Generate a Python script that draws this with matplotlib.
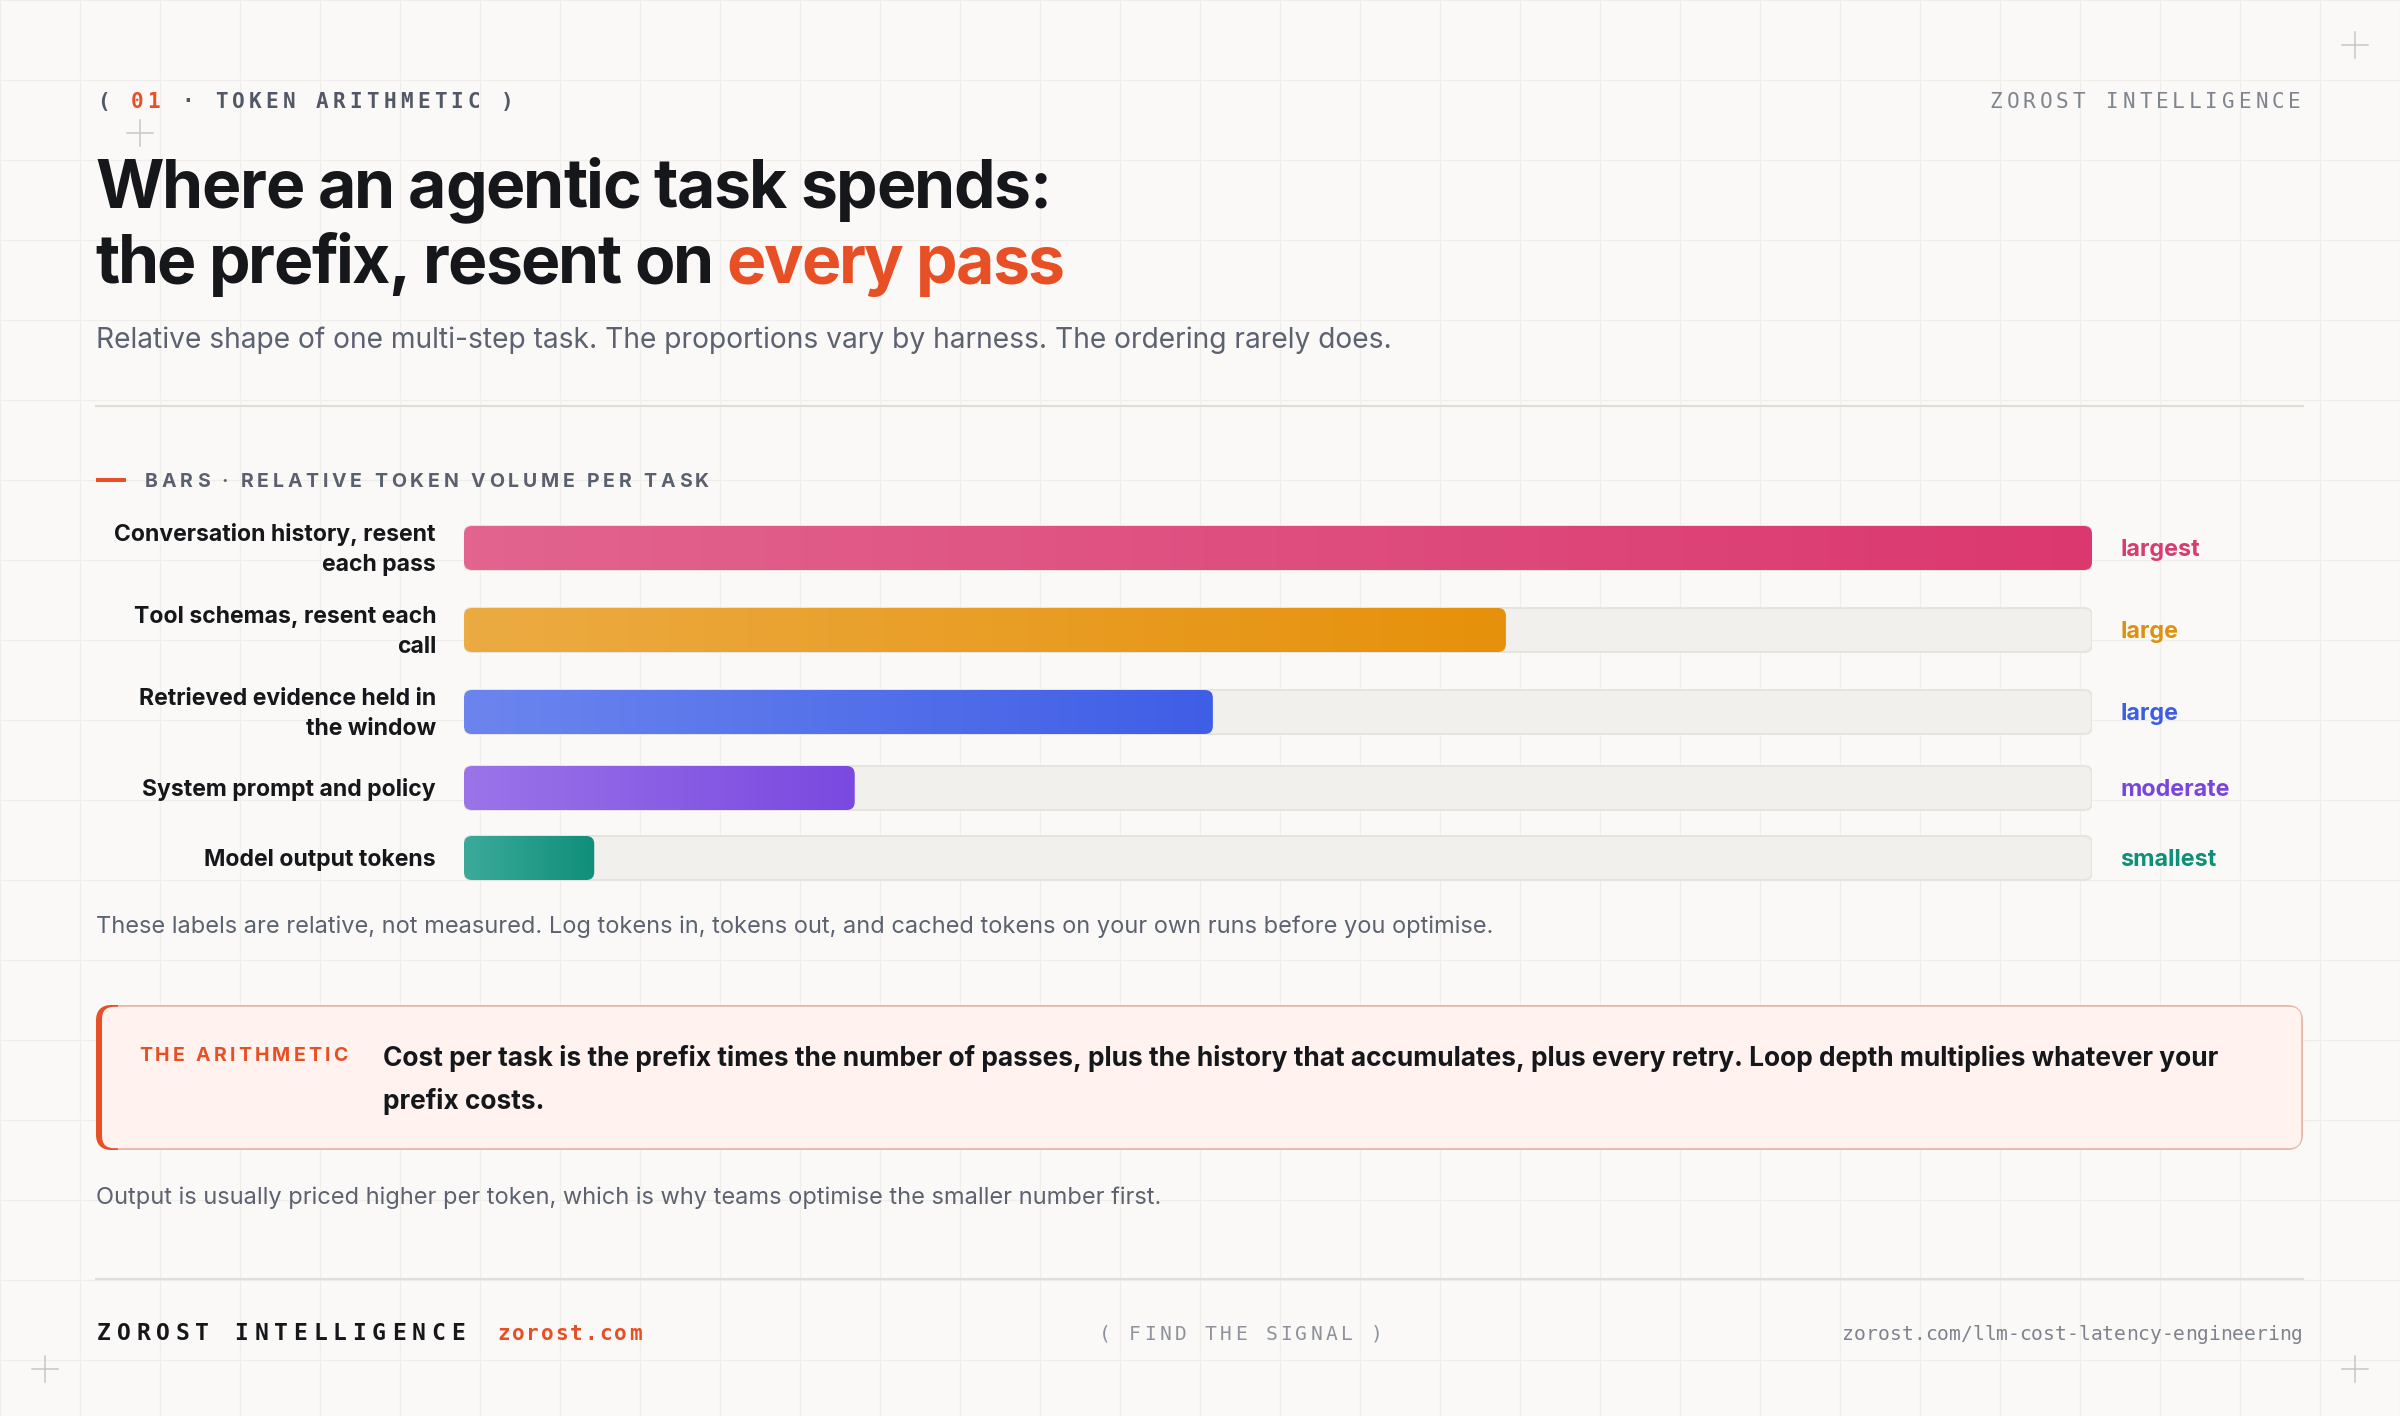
import numpy as np
import matplotlib
matplotlib.use("Agg")
import matplotlib.pyplot as plt
from matplotlib.patches import FancyBboxPatch, Rectangle
from matplotlib.colors import LinearSegmentedColormap
from matplotlib.font_manager import FontProperties, findfont, get_font

# ---------------- data ----------------
categories = ["Conversation history, resent\neach pass",
              "Tool schemas, resent each\ncall",
              "Retrieved evidence held in\nthe window",
              "System prompt and policy",
              "Model output tokens"]
values = [100, 64, 46, 24, 8]
levels = ["largest", "large", "large", "moderate", "smallest"]
grad_start = ["#e2648f", "#ecab42", "#6c85ee", "#9b74e9", "#3caa9a"]
grad_end = ["#db386f", "#e6910b", "#3f5ee6", "#7a49e0", "#0f8f7a"]
level_colors = ["#d63c70", "#e0900f", "#3d5ee0", "#7a45dd", "#0e8f78"]

header_left = ["( ", "01", " · TOKEN ARITHMETIC )"]
brand = "ZOROST INTELLIGENCE"
title_l1 = "Where an agentic task spends:"
title_l2a = "the prefix, resent on "
title_l2b = "every pass"
subtitle = ("Relative shape of one multi-step task. The proportions vary by harness. "
            "The ordering rarely does.")
section = "BARS · RELATIVE TOKEN VOLUME PER TASK"
note1 = ("These labels are relative, not measured. Log tokens in, tokens out, and "
         "cached tokens on your own runs before you optimise.")
callout_label = "THE ARITHMETIC"
callout_lines = ["Cost per task is the prefix times the number of passes, plus the history "
                 "that accumulates, plus every retry. Loop depth multiplies whatever your",
                 "prefix costs."]
note2 = "Output is usually priced higher per token, which is why teams optimise the smaller number first."
footer_site = "zorost.com"
footer_mid = "( FIND THE SIGNAL )"
footer_url = "zorost.com/llm-cost-latency-engineering"

# ---------------- layout ----------------
W, H, DPI = 2400, 1416, 100
SANS = "Inter"
MONO = "DejaVu Sans Mono"
BG = "#faf9f7"
ORANGE = "#e84f25"
INK = "#16171b"
GRAY = "#5c6270"

row_y = [548, 630, 712, 788, 858]
bar_h = 44
track_left, track_right = 464, 2092


def px(p):
    return p * 72.0 / DPI


def fprop(family, weight, size_px):
    return FontProperties(family=family, weight=weight, size=px(size_px))


def advances(s, prop, kern=False):
    font = get_font(findfont(prop))
    font.set_size(prop.get_size_in_points(), DPI)
    out = []
    prev = None
    for c in s:
        k = 0.0
        if kern:
            try:
                idx = font.get_char_index(ord(c))
                if prev is not None:
                    try:
                        from matplotlib.ft2font import Kerning
                        k = font.get_kerning(prev, idx, Kerning.DEFAULT) / 64.0
                    except Exception:
                        k = font.get_kerning(prev, idx, 0) / 64.0
                prev = idx
            except Exception:
                k = 0.0
        out.append((k, font.load_char(ord(c)).linearHoriAdvance / 65536.0))
    return out


def tracked(ax, x, y, s, size_px, track, family, weight, color, ha="left",
            va="baseline", zorder=6, kern=False):
    prop = fprop(family, weight, size_px)
    adv = advances(s, prop, kern)
    total = sum(k + a for k, a in adv) + track * (len(s) - 1)
    if ha == "right":
        x0 = x - total
    elif ha == "center":
        x0 = x - total / 2
    else:
        x0 = x
    for c, (k, a) in zip(s, adv):
        x0 += k
        if not c.isspace():
            ax.text(x0, y, c, fontproperties=prop, color=color, ha="left", va=va, zorder=zorder)
        x0 += a + track
    return x0 - track


fig = plt.figure(figsize=(W / DPI, H / DPI), dpi=DPI, facecolor=BG)
ax = fig.add_axes([0, 0, 1, 1])
ax.set_xlim(0, W)
ax.set_ylim(H, 0)
ax.axis("off")
ax.set_facecolor(BG)

# background grid
for gx in range(0, W + 1, 80):
    ax.axvline(gx, color="#f0eeea", lw=px(1.2), zorder=0)
for gy in range(0, H + 1, 80):
    ax.axhline(gy, color="#f0eeea", lw=px(1.2), zorder=0)

# corner crosses
for cx, cy in [(140, 133), (2355, 45), (45, 1369), (2355, 1369)]:
    ax.plot([cx - 13, cx + 13], [cy, cy], color="#c9c9cc", lw=px(1.6), zorder=1)
    ax.plot([cx, cx], [cy - 13, cy + 13], color="#c9c9cc", lw=px(1.6), zorder=1)

# header
x = 97
hdr_colors = ["#525866", ORANGE, "#525866"]
for part, col in zip(header_left, hdr_colors):
    x = tracked(ax, x, 108, part, 21, 4.2, MONO, "bold", col) + 4.2
tracked(ax, 2301, 108, brand, 21, 3.95, MONO, "normal", "#7f848e", ha="right")

# title
tracked(ax, 95, 208, title_l1, 66, -1.4, SANS, "bold", INK, kern=True)
x2 = tracked(ax, 95, 283, title_l2a, 66, -1.7, SANS, "bold", INK, kern=True)
tracked(ax, x2 - 2.0, 283, title_l2b, 66, -1.7, SANS, "bold", ORANGE, kern=True)

# subtitle
ax.text(96, 348, subtitle, fontproperties=fprop(SANS, "normal", 28.2), color=GRAY, va="baseline")

# rule
ax.plot([96, 2303], [406, 406], color="#e1ded9", lw=px(2.2), zorder=2)

# section label
ax.plot([96, 126], [480, 480], color=ORANGE, lw=px(4), solid_capstyle="butt")
tracked(ax, 145, 487, section, 19.5, 3.8, SANS, "bold", "#5a6070")

# ---------------- bars ----------------
axb = fig.add_axes([track_left / W, 1 - 900 / H, (track_right - track_left) / W, 400 / H])
axb.set_xlim(0, 100)
axb.set_ylim(900, 500)
axb.axis("off")
axb.patch.set_visible(False)
xunit_px = (track_right - track_left) / 100.0
rad = 8 / xunit_px

for i, (y, v) in enumerate(zip(row_y, values)):
    trk = FancyBboxPatch((0, y - bar_h / 2), 100, bar_h,
                         boxstyle=f"round,pad=0,rounding_size={rad}",
                         mutation_aspect=xunit_px, fc="#f1f0ec", ec="#e7e4df",
                         lw=px(2), zorder=1)
    axb.add_patch(trk)
    bar = FancyBboxPatch((0, y - bar_h / 2), v, bar_h,
                         boxstyle=f"round,pad=0,rounding_size={rad}",
                         mutation_aspect=xunit_px, fc="none", ec="none", zorder=2)
    axb.add_patch(bar)
    cmap = LinearSegmentedColormap.from_list(f"g{i}", [grad_start[i], grad_end[i]])
    im = axb.imshow(np.linspace(0, 1, 256).reshape(1, -1), cmap=cmap,
                    extent=(0, v, y + bar_h / 2, y - bar_h / 2), aspect="auto",
                    interpolation="bilinear", zorder=3)
    im.set_clip_path(bar)
axb.set_xlim(0, 100)
axb.set_ylim(900, 500)

# category labels & level labels
lp = fprop(SANS, "bold", 23)
for y, cat, lev, col in zip(row_y, categories, levels, level_colors):
    lines = cat.split("\n")
    if len(lines) == 1:
        ax.text(436, y + 8, lines[0], fontproperties=lp, color=INK, ha="right", va="baseline")
    else:
        ax.text(436, y - 7, lines[0], fontproperties=lp, color=INK, ha="right", va="baseline")
        ax.text(436, y + 23, lines[1], fontproperties=lp, color=INK, ha="right", va="baseline")
    ax.text(2120, y + 8, lev, fontproperties=fprop(SANS, "bold", 23.3), color=col,
            ha="left", va="baseline")

# note 1
ax.text(96, 933, note1, fontproperties=fprop(SANS, "normal", 23.55), color=GRAY, va="baseline")

# ---------------- callout ----------------
bx0, bx1, by0, by1 = 96, 2303, 1005, 1150
outer = FancyBboxPatch((bx0, by0), bx1 - bx0, by1 - by0,
                       boxstyle="round,pad=0,rounding_size=16", fc="#e6b6a6", ec="none", zorder=2)
ax.add_patch(outer)
acc = Rectangle((bx0, by0), 22, by1 - by0, fc=ORANGE, ec="none", zorder=3)
ax.add_patch(acc)
acc.set_clip_path(outer)
inner = FancyBboxPatch((bx0 + 6, by0 + 1.8), bx1 - bx0 - 7.8, by1 - by0 - 3.6,
                       boxstyle="round,pad=0,rounding_size=12", fc="#fff2ef", ec="none", zorder=4)
ax.add_patch(inner)
tracked(ax, 139, 1061, callout_label, 19.5, 3.2, SANS, "bold", ORANGE, zorder=6)
cp = fprop(SANS, "bold", 26.3)
ax.text(383, 1066, callout_lines[0], fontproperties=cp, color=INK, va="baseline", zorder=6)
ax.text(383, 1109, callout_lines[1], fontproperties=cp, color=INK, va="baseline", zorder=6)

# note 2
ax.text(96, 1204, note2, fontproperties=fprop(SANS, "normal", 23.6), color=GRAY, va="baseline")

# footer
ax.plot([96, 2303], [1279, 1279], color="#e1ded9", lw=px(2.2), zorder=2)
tracked(ax, 97, 1340, brand, 23, 5.8, MONO, "bold", INK)
tracked(ax, 497, 1340, footer_site, 21, 2.0, MONO, "bold", ORANGE)
tracked(ax, 1099, 1340, footer_mid, 19.6, 3.3, MONO, "normal", "#8e929b")
tracked(ax, 2303, 1340, footer_url, 19.6, 0.0, MONO, "normal", "#7e838d", ha="right")

fig.savefig("out.png", dpi=DPI, facecolor=BG)
